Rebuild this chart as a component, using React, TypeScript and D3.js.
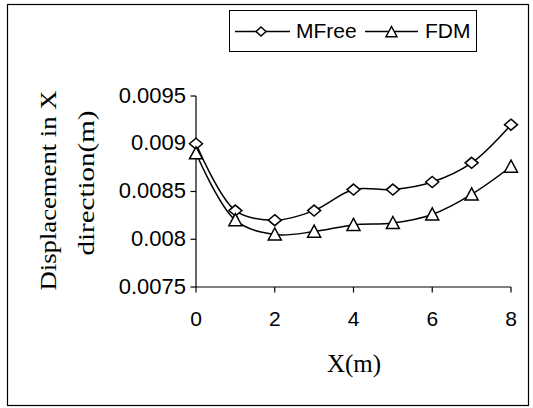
import React from 'react';
import * as d3 from 'd3';

const xs = [0, 1, 2, 3, 4, 5, 6, 7, 8];
const mfree = [0.009, 0.0083, 0.0082, 0.0083, 0.00852, 0.00852, 0.0086, 0.0088, 0.0092];
const fdm = [0.0089, 0.0082, 0.00805, 0.00808, 0.00815, 0.00817, 0.00826, 0.00847, 0.00876];
const xTicks = [0, 2, 4, 6, 8];
const yTicks = [0.0075, 0.008, 0.0085, 0.009, 0.0095];
const yTickLabels = ['0.0075', '0.008', '0.0085', '0.009', '0.0095'];

const W = 533;
const H = 408;
const sans = 'Liberation Sans, Arial, sans-serif';
const serif = 'Liberation Serif, Times New Roman, serif';

export default function App() {
  const x = d3.scaleLinear().domain([0, 8]).range([196, 511]);
  const y = d3.scaleLinear().domain([0.0075, 0.0095]).range([287, 96]);
  const y0 = y(0.0075);

  const line = d3.line<number>()
    .x((d, i) => x(xs[i]))
    .y(d => y(d))
    .curve(d3.curveCatmullRom.alpha(0.5));

  const diamond = (cx: number, cy: number, rx = 6.5, ry = 5.5) =>
    `M${cx},${cy - ry}L${cx + rx},${cy}L${cx},${cy + ry}L${cx - rx},${cy}Z`;
  const triangle = (cx: number, cy: number, r = 6.5) =>
    `M${cx},${cy - r}L${cx + r},${cy + r * 0.85}L${cx - r},${cy + r * 0.85}Z`;

  return (
    <svg width={W} height={H} style={{ position: 'absolute', left: 0, top: 0 }}>
      <rect x={0} y={0} width={W} height={H} fill="#fff" />
      <rect x={7.5} y={4.5} width={521} height={401} fill="none" stroke="#000" strokeWidth={1.2} />

      {/* legend */}
      <rect x={229.5} y={10.5} width={247} height={41} fill="#fff" stroke="#000" strokeWidth={1} />
      <line x1={235} x2={290} y1={31.5} y2={31.5} stroke="#000" strokeWidth={1.5} />
      <path d={diamond(261, 31.5, 5, 4.5)} fill="#fff" stroke="#000" strokeWidth={1.5} />
      <text x={296} y={38} fontFamily={sans} fontSize={21}>MFree</text>
      <line x1={365} x2={418} y1={31.5} y2={31.5} stroke="#000" strokeWidth={1.5} />
      <path d={triangle(391.5, 32, 5.5)} fill="#fff" stroke="#000" strokeWidth={1.5} />
      <text x={425} y={38} fontFamily={sans} fontSize={21}>FDM</text>

      {/* axes */}
      <line x1={196} x2={196} y1={y(0.0095)} y2={y0} stroke="#000" strokeWidth={1.2} />
      <line x1={196} x2={511} y1={y0} y2={y0} stroke="#000" strokeWidth={1.2} />
      {yTicks.map((t, i) => (
        <g key={t}>
          <line x1={190.5} x2={196} y1={y(t)} y2={y(t)} stroke="#000" strokeWidth={1.2} />
          <text x={186} y={y(t) + 6.5} textAnchor="end" fontFamily={sans} fontSize={22}>
            {yTickLabels[i]}
          </text>
        </g>
      ))}
      {xTicks.map(t => (
        <g key={t}>
          <line x1={x(t)} x2={x(t)} y1={y0} y2={y0 + 5.5} stroke="#000" strokeWidth={1.2} />
          <text x={x(t)} y={326} textAnchor="middle" fontFamily={sans} fontSize={21}>
            {t}
          </text>
        </g>
      ))}

      <text x={354} y={372} textAnchor="middle" fontFamily={serif} fontSize={25}>X(m)</text>
      <text transform="translate(56,190.5) rotate(-90)" textAnchor="middle" fontFamily={serif} fontSize={23}
        textLength={200} lengthAdjust="spacingAndGlyphs">
        Displacement in X
      </text>
      <text transform="translate(93.5,183) rotate(-90)" textAnchor="middle" fontFamily={serif} fontSize={23}
        textLength={145} lengthAdjust="spacingAndGlyphs">
        direction(m)
      </text>

      {/* series */}
      <path d={line(mfree) || ''} fill="none" stroke="#000" strokeWidth={1.5} />
      <path d={line(fdm) || ''} fill="none" stroke="#000" strokeWidth={1.5} />
      {mfree.map((v, i) => (
        <path key={'m' + i} d={diamond(x(xs[i]), y(v))} fill="#fff" stroke="#000" strokeWidth={1.5} />
      ))}
      {fdm.map((v, i) => (
        <path key={'f' + i} d={triangle(x(xs[i]), y(v))} fill="#fff" stroke="#000" strokeWidth={1.5} />
      ))}
    </svg>
  );
}
